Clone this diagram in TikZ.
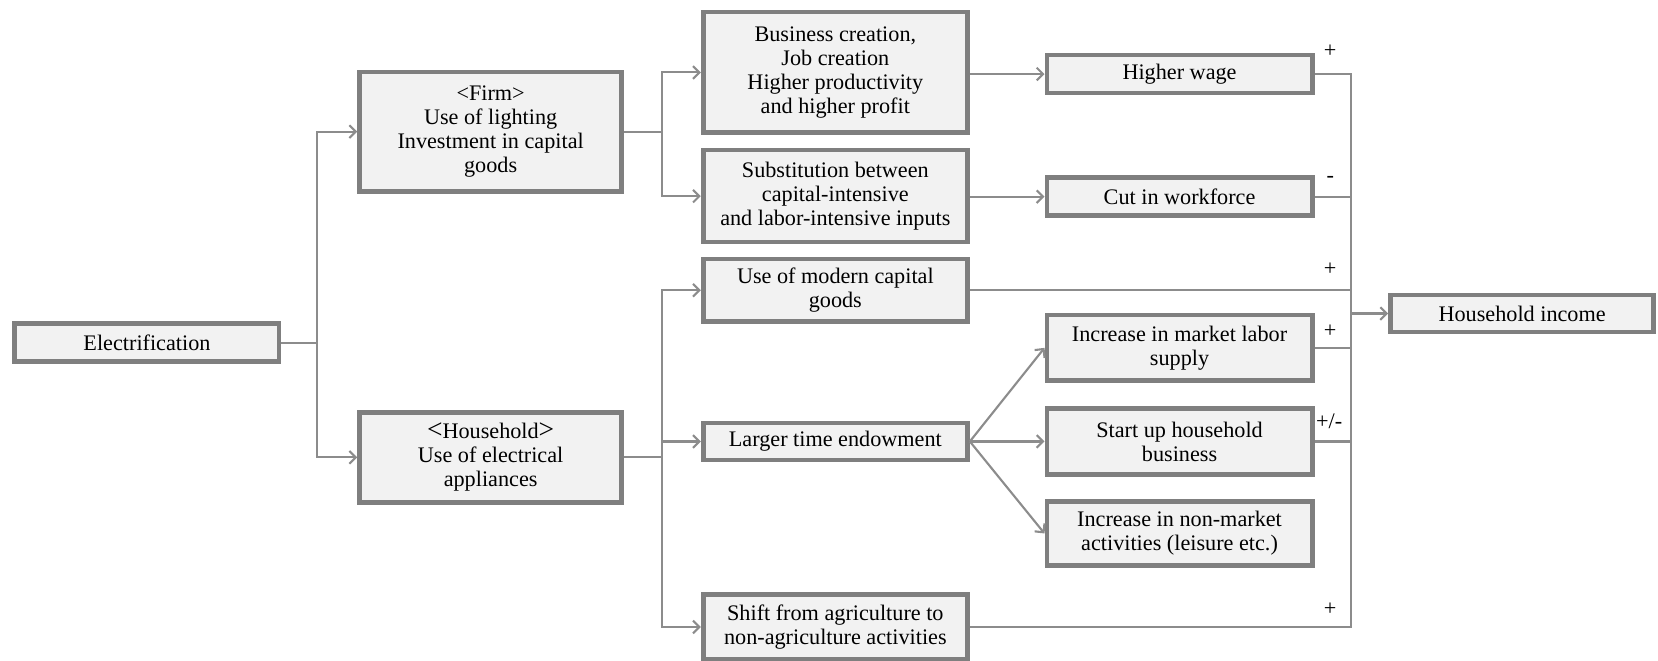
\documentclass[tikz,border=0pt]{standalone}
\usepackage{fontspec}
\setmainfont{Liberation Serif}
\usetikzlibrary{arrows.meta}
\definecolor{bordergray}{HTML}{7F7F7F}
\definecolor{boxfill}{HTML}{F2F2F2}
\definecolor{linegray}{HTML}{8C8C8C}
\begin{document}
\begin{tikzpicture}[x=0.5pt,y=-0.5pt,
  box/.style={draw=bordergray, line width=2.2pt, fill=boxfill, align=center, inner sep=1pt,
    minimum width=125pt, font=\fontsize{10.5}{11.4}\selectfont},
  conn/.style={draw=linegray, line width=1pt},
  arr/.style={conn, -{Straight Barb[length=3pt,width=6pt]}},
  sign/.style={font=\fontsize{10.5}{11.4}\selectfont, inner sep=0pt}]
\useasboundingbox (0,0) rectangle (1568,625);
% column 1
\node[box, minimum height=18pt] (elec) at (139,324) {Electrification};
% column 2
\node[box, minimum width=124pt, minimum height=56.5pt] (firm) at (464,124.5)
  {<Firm>\\Use of lighting\\Investment in capital\\goods};
\node[box, minimum width=124pt, minimum height=42.5pt] (hh) at (464,432.5)
  {{\fontsize{13}{11.4}\selectfont<}Household{\fontsize{13}{11.4}\selectfont>}\\Use of electrical\\appliances};
% column 3
\node[box, minimum height=57pt] (bus) at (790,68.5)
  {Business creation,\\Job creation\\Higher productivity\\and higher profit};
\node[box, minimum height=43.5pt] (sub) at (790,185.5)
  {Substitution between\\capital-intensive\\and labor-intensive inputs};
\node[box, minimum height=29.5pt] (mod) at (790,274.5)
  {Use of modern capital\\goods};
\node[box, minimum height=17.5pt] (larger) at (790,417.5)
  {Larger time endowment};
\node[box, minimum height=31pt] (shift) at (790,593)
  {Shift from agriculture to\\non-agriculture activities};
% column 4
\node[box, minimum width=125.5pt, minimum height=18pt] (wage) at (1115.5,70)
  {Higher wage};
\node[box, minimum width=125.5pt, minimum height=18pt] (cut) at (1115.5,186)
  {Cut in workforce};
\node[box, minimum width=125.5pt, minimum height=31pt] (mkt) at (1115.5,329)
  {Increase in market labor\\supply};
\node[box, minimum width=125.5pt, minimum height=31pt] (start) at (1115.5,417.5)
  {Start up household\\business};
\node[box, minimum width=125.5pt, minimum height=30.5pt] (nonmkt) at (1115.5,504.5)
  {Increase in non-market\\activities (leisure etc.)};
% column 5
\node[box, minimum width=124.5pt, minimum height=17.5pt] (inc) at (1439.5,296.5)
  {Household income};
% junctions
\coordinate (j1) at (300,324);
\coordinate (j2) at (626,124.5);
\coordinate (j3) at (626,432.5);
\coordinate (cx) at (1278,300);
% connectors
\draw[conn] (elec.east) -- (j1);
\draw[arr] (j1) |- (firm.west);
\draw[arr] (j1) |- (hh.west);
\draw[conn] (firm.east) -- (j2);
\draw[arr] (j2) |- (bus.west);
\draw[arr] (j2) |- (sub.west);
\draw[conn] (hh.east) -- (j3);
\draw[arr] (j3) |- (mod.west);
\draw[arr] (j3) |- (larger.west);
\draw[arr] (j3) |- (shift.west);
\draw[arr] (bus.east |- wage.west) -- (wage.west);
\draw[arr] (sub.east |- cut.west) -- (cut.west);
\draw[arr] (larger.east) -- (mkt.west);
\draw[arr] (larger.east) -- (start.west);
\draw[arr] (larger.east) -- (nonmkt.west);
\draw[conn] (wage.east) -- (wage.east -| cx) -- (shift.east -| cx) -- (shift.east);
\draw[conn] (cut.east) -- (cut.east -| cx);
\draw[conn] (mod.east) -- (mod.east -| cx);
\draw[conn] (mkt.east) -- (mkt.east -| cx);
\draw[conn] (start.east) -- (start.east -| cx);
\draw[arr] (inc.west -| cx) -- (inc.west);
% signs
\node[sign] (s1) at (1258,48) {+};
\node[sign] (s2) at (1258,170) {-};
\node[sign] (s3) at (1258,255) {+};
\node[sign] (s4) at (1258,313) {+};
\node[sign] (s5) at (1257,398) {+/-};
\node[sign] (s6) at (1258,576) {+};
\end{tikzpicture}
\end{document}
